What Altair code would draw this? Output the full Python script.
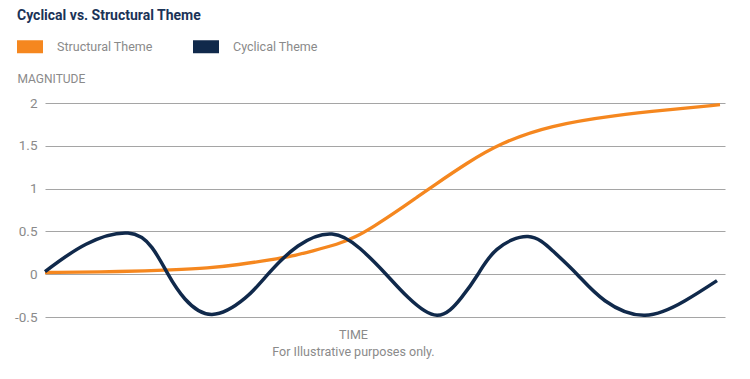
import altair as alt
import pandas as pd

# Time positions (arbitrary units) and magnitudes
cyc_t = [0, 41, 83, 107, 123, 140, 167, 200, 223, 253, 287, 315, 341, 363, 392, 416, 433,
         452, 483, 508, 532, 560, 600, 640, 672]
cyc_v = [0.03, 0.35, 0.48, 0.31, 0.0, -0.29, -0.47, -0.28, 0.0, 0.33, 0.47, 0.30, 0.0, -0.27, -0.48, -0.28, 0.0,
         0.29, 0.44, 0.27, 0.0, -0.31, -0.48, -0.31, -0.075]

str_t = [0, 78, 128, 163, 193, 227, 247, 267, 293, 310, 328, 355, 372, 388, 422, 455, 505, 572, 622, 675]
str_v = [0.02, 0.03, 0.05, 0.07, 0.11, 0.17, 0.21, 0.27, 0.35, 0.43, 0.55, 0.76, 0.9, 1.03, 1.3, 1.53,
         1.74, 1.86, 1.92, 1.98]

series = ["Structural Theme", "Cyclical Theme"]
colors = ["#F5871F", "#10294B"]
y_ticks = [-0.5, 0, 0.5, 1, 1.5, 2]

df_str = pd.DataFrame({"t": str_t, "v": str_v, "s": series[0]})
df_cyc = pd.DataFrame({"t": cyc_t, "v": cyc_v, "s": series[1]})

FONT = "Roboto"
GRAY = "#8a8a8a"

x_enc = alt.X("t:Q", scale=alt.Scale(domain=[0, 680], nice=False, zero=False),
              axis=alt.Axis(labels=False, ticks=False, domain=False, grid=False,
                            title=["TIME", "For Illustrative purposes only."],
                            titleX=308, titleY=21, titleAlign="center", titleBaseline="alphabetic",
                            titleFont=FONT, titleFontSize=12.5, titleFontWeight="normal",
                            titleColor=GRAY, titleLineHeight=17))
y_enc = alt.Y("v:Q", scale=alt.Scale(domain=[-0.5, 2], nice=False, zero=False),
              axis=alt.Axis(values=y_ticks, labelExpr="datum.value", ticks=False, domain=False,
                            grid=True, gridColor="#a5a5a5", gridWidth=1.2,
                            labelFont=FONT, labelFontSize=13.5, labelColor=GRAY, labelPadding=8,
                            title="MAGNITUDE", titleAngle=0, titleX=-28, titleY=-21,
                            titleAlign="left", titleBaseline="alphabetic",
                            titleFont=FONT, titleFontSize=12, titleFontWeight="normal",
                            titleColor=GRAY))
c_enc = alt.Color("s:N", scale=alt.Scale(domain=series, range=colors),
                  legend=alt.Legend(title=None, orient="none", legendX=-34.5, legendY=-76,
                                    direction="horizontal", symbolType="M-1,0H1",
                                    symbolSize=676, symbolStrokeWidth=13,
                                    labelFont=FONT, labelFontSize=12.5, labelColor=GRAY,
                                    labelOffset=7.5, columnPadding=13, padding=0))

structural = alt.Chart(df_str).mark_line(strokeWidth=3.3, interpolate="basis").encode(
    x=x_enc, y=y_enc, color=c_enc)
cyclical = alt.Chart(df_cyc).mark_line(strokeWidth=3.5, interpolate="natural").encode(
    x=x_enc, y=y_enc, color=c_enc)

chart = alt.layer(structural, cyclical).properties(
    width=680, height=214,
    autosize=alt.AutoSizeParams(type="none"),
    padding={"left": 37, "top": 95, "right": 17, "bottom": 54},
    title=alt.TitleParams("Cyclical vs. Structural Theme", anchor="start", frame="group",
                          font=FONT, fontSize=14, fontWeight="bold", color="#1B3357",
                          baseline="bottom", offset=18, dx=-28, dy=28),
).configure_view(stroke=None)

chart.save("out.html", embed_options={"renderer": "svg", "actions": False})
